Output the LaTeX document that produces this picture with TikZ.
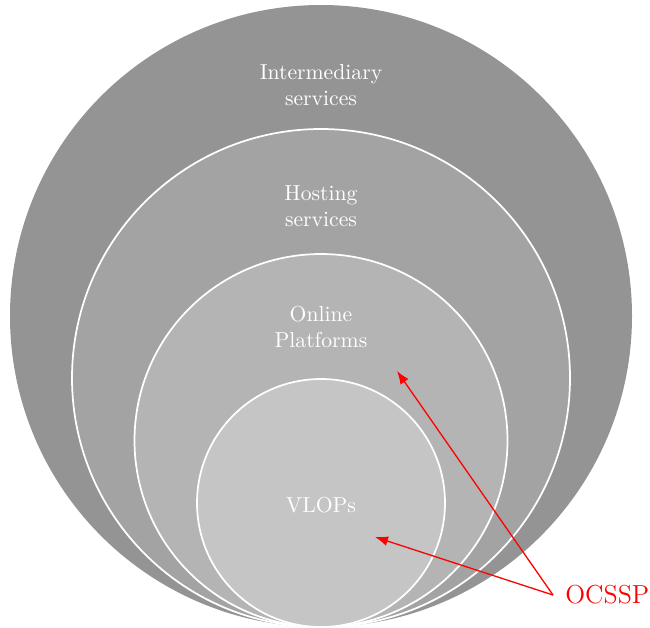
\documentclass[tikz,border=0pt]{standalone}
\usetikzlibrary{arrows.meta}
\begin{document}
\begin{tikzpicture}[x=0.461pt,y=-0.461pt,
  ring/.style={draw=white,line width=0.8pt},
  lbl/.style={text=white,align=center,font=\normalsize,inner sep=0pt},
  redarrow/.style={draw=red,line width=0.6pt,-{Latex[length=6pt,width=4.5pt]}}]
\useasboundingbox (0,0) rectangle (650,627);
\definecolor{c1}{HTML}{949494}
\definecolor{c2}{HTML}{A3A3A3}
\definecolor{c3}{HTML}{B4B4B4}
\definecolor{c4}{HTML}{C5C5C5}
\fill[c1] (321,316) circle[radius=311];
\filldraw[fill=c2,ring] (321,378) circle[radius=249];
\filldraw[fill=c3,ring] (321,440.5) circle[radius=186.5];
\filldraw[fill=c4,ring] (321,503) circle[radius=124];
\node[lbl] (inter) at (321,85) {Intermediary\\services};
\node[lbl] (host) at (321,206) {Hosting\\services};
\node[lbl] (online) at (321,327) {Online\\Platforms};
\node[lbl] (vlops) at (321,505) {VLOPs};
\node[text=red,anchor=west,inner sep=5.5pt] (ocssp) at (553,595) {\large OCSSP};
\coordinate (t1) at (397,371);
\coordinate (t2) at (375,537);
\draw[redarrow] (ocssp.west) -- (t1);
\draw[redarrow] (ocssp.west) -- (t2);
\end{tikzpicture}
\end{document}
